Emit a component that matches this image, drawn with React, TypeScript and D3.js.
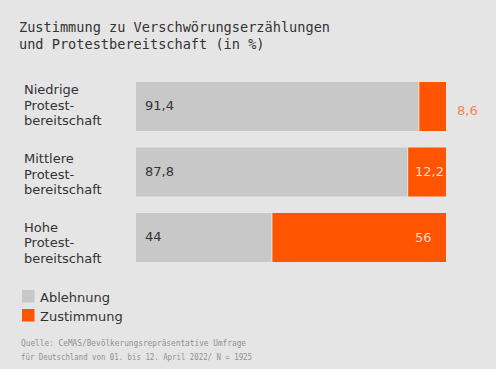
import * as d3 from "d3";

const categories = [
  ["Niedrige", "Protest-", "bereitschaft"],
  ["Mittlere", "Protest-", "bereitschaft"],
  ["Hohe", "Protest-", "bereitschaft"],
];
const ablehnung = [91.4, 87.8, 44];
const zustimmung = [8.6, 12.2, 56];
const seriesNames = ["Ablehnung", "Zustimmung"];
const titleLines = [
  "Zustimmung zu Verschwörungserzählungen",
  "und Protestbereitschaft (in %)",
];
const sourceLines = [
  "Quelle: CeMAS/Bevölkerungsrepräsentative Umfrage",
  "für Deutschland von 01. bis 12. April 2022/ N = 1925",
];
const sourceWidths = [225, 231];

const W = 500;
const H = 369;
const GRAY = "#c8c8c8";
const ORANGE = "#ff5500";
const BG = "#e5e5e5";
const TEXT = "#333333";
const SANS = "'DejaVu Sans', sans-serif";
const MONO = "'DejaVu Sans Mono', monospace";

const fmt = (v: number) => String(v).replace(".", ",");

export default function App() {
  const keys = categories.map((c) => c[0]);
  const x = d3.scaleLinear().domain([0, 100]).range([136, 446]);
  const y = d3.scaleBand<string>().domain(keys).range([82, 262]).paddingInner(0.252);
  const bw = y.bandwidth();

  return (
    <svg
      width={W}
      height={H}
      style={{ position: "absolute", left: 0, top: 0, display: "block" }}
    >
      <rect x={0} y={0} width={496} height={H} fill={BG} />
      <g fontFamily={MONO} fontSize={13.6} fill={TEXT}>
        {titleLines.map((t, i) => (
          <text key={t} x={19} y={32 + i * 16.5}>
            {t}
          </text>
        ))}
      </g>

      {keys.map((k, i) => {
        const top = y(k)!;
        const cy = top + bw / 2;
        const split = x(ablehnung[i]);
        const end = x(ablehnung[i] + zustimmung[i]);
        const inside = end - split > 35;
        return (
          <g key={k}>
            <rect x={x(0)} y={top} width={split - x(0) - 1} height={bw} fill={GRAY} />
            <rect x={split} y={top} width={end - split} height={bw} fill={ORANGE} />
            <text x={x(0) + 9} y={cy + 3.5} fontFamily={SANS} fontSize={13} fill={TEXT}>
              {fmt(ablehnung[i])}
            </text>
            <text
              x={inside ? end - 31 : end + 11}
              y={cy + (inside ? 4 : 9)}
              fontFamily={SANS}
              fontSize={13}
              fill={inside ? "#ffd9c4" : "#f5824d"}
            >
              {fmt(zustimmung[i])}
            </text>
            <g fontFamily={SANS} fontSize={13} fill={TEXT}>
              {categories[i].map((line, j) => (
                <text key={j} x={24} y={cy - 12 + i * 3 + j * 15.5}>
                  {line}
                </text>
              ))}
            </g>
          </g>
        );
      })}

      {seriesNames.map((s, i) => (
        <g key={s}>
          <rect x={22} y={290 + i * 19} width={12.5} height={12.5} fill={i === 0 ? GRAY : ORANGE} />
          <text x={40} y={302 + i * 19} fontFamily={SANS} fontSize={13} fill={TEXT}>
            {s}
          </text>
        </g>
      ))}

      <g fontFamily={MONO} fontSize={8} fill="#909090">
        {sourceLines.map((t, i) => (
          <text
            key={t}
            x={21}
            y={346 + i * 14}
            textLength={sourceWidths[i]}
            lengthAdjust="spacingAndGlyphs"
          >
            {t}
          </text>
        ))}
      </g>
    </svg>
  );
}
